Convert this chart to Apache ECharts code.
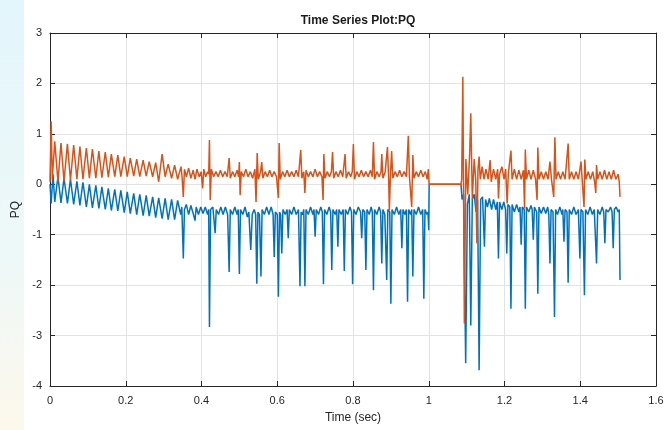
<!DOCTYPE html>
<html><head><meta charset="utf-8">
<script src="https://cdn.jsdelivr.net/npm/echarts@6/dist/echarts.min.js"></script>
<style>html,body{margin:0;padding:0;background:#fff}#c{width:668px;height:430px}</style>
</head><body><div id="c"></div>
<script>
const xTicks = [0, 0.2, 0.4, 0.6, 0.8, 1, 1.2, 1.4, 1.6];
const yTicks = [-4, -3, -2, -1, 0, 1, 2, 3];

// Orange series (P): [time, value]
const pOsc = [[0,0.05],[0.003,1.25],[0.006,0.1],[0.0125,0.85],[0.021,0.05],[0.029,0.82],[0.037,0.06],[0.046,0.8],[0.054,0.08],[0.0625,0.78],[0.071,0.1],[0.079,0.75],[0.087,0.1],[0.096,0.72],[0.104,0.12],[0.112,0.7],[0.121,0.12],[0.129,0.66],[0.137,0.13],[0.146,0.64],[0.154,0.14],[0.162,0.6],[0.171,0.15],[0.179,0.58],[0.187,0.15],[0.196,0.55],[0.204,0.15],[0.212,0.52],[0.221,0.16],[0.229,0.5],[0.237,0.15],[0.246,0.48],[0.254,0.16],[0.262,0.45],[0.271,0.15],[0.279,0.43],[0.287,0.05],[0.296,0.6],[0.304,0.15],[0.312,0.4],[0.321,0.12],[0.329,0.38],[0.337,0.1]];
const pMid = [[0.346,0.35],[0.349,0.12],[0.352,-0.25],[0.355,0.3],[0.36,0.15],[0.366,0.32],[0.372,0.12],[0.378,0.28],[0.383,0.1],[0.388,0.3],[0.394,0.15],[0.399,0.25],[0.403,-0.08],[0.406,0.3],[0.411,0.15],[0.416,0.25],[0.419,0.2],[0.421,0.88],[0.423,-0.31],[0.426,0.3],[0.432,0.15],[0.438,0.25],[0.444,0.15],[0.45,0.28],[0.456,0.15],[0.462,0.25],[0.468,0.15],[0.473,0.52],[0.476,0.12],[0.482,0.25],[0.488,0.15],[0.494,0.28],[0.498,0.15],[0.5,0.44],[0.502,-0.21],[0.505,0.25],[0.511,0.15],[0.517,0.3],[0.523,0.15],[0.529,0.25],[0.535,0.12],[0.541,0.3],[0.544,-0.35],[0.547,0.62],[0.55,0.1],[0.556,0.25],[0.559,0.44],[0.562,0.12],[0.568,0.25],[0.574,0.15],[0.58,0.28],[0.586,0.15],[0.592,0.25],[0.598,0.15],[0.603,-0.27],[0.605,0.82],[0.608,0.1],[0.614,0.25],[0.62,0.15],[0.626,0.28],[0.632,0.15],[0.638,0.25],[0.644,0.15],[0.65,0.28],[0.656,0.15],[0.662,0.68],[0.665,0.12],[0.67,0.25],[0.673,-0.17],[0.676,0.28],[0.682,0.15],[0.688,0.25],[0.694,0.15],[0.7,0.3],[0.706,0.15],[0.712,0.25],[0.718,0.15],[0.721,-0.31],[0.723,0.6],[0.726,0.12],[0.732,0.25],[0.738,0.15],[0.743,0.25],[0.746,0.64],[0.749,0.12],[0.755,0.25],[0.761,0.15],[0.767,0.28],[0.773,0.15],[0.779,0.6],[0.782,0.12],[0.788,0.25],[0.794,0.15],[0.798,0.25],[0.801,0.8],[0.804,0.1],[0.81,0.25],[0.816,0.15],[0.822,0.28],[0.828,0.15],[0.834,0.25],[0.84,0.15],[0.846,0.28],[0.851,0.15],[0.854,0.84],[0.857,0.1],[0.863,0.25],[0.869,0.15],[0.874,0.25],[0.876,0.6],[0.879,0.12],[0.885,0.25],[0.891,0.74],[0.894,0.15],[0.896,-0.51],[0.899,0.2],[0.902,0.66],[0.905,0.12],[0.911,0.25],[0.917,0.15],[0.923,0.28],[0.929,0.15],[0.935,0.25],[0.941,0.15],[0.946,0.96],[0.949,0.15],[0.955,-0.45],[0.958,0.58],[0.961,0.12],[0.967,0.25],[0.973,0.15],[0.979,0.28],[0.985,0.15],[0.991,0.25],[0.996,0.1],[0.999,0.3],[1.001,0.0],[1.085,0.0]];
const pPost = [[1.087,0.1],[1.09,2.13],[1.094,-2.76],[1.098,0.5],[1.103,-0.2],[1.108,0.6],[1.111,1.41],[1.115,-0.3],[1.12,0.5],[1.124,0.1],[1.127,-1.17],[1.13,0.3],[1.133,0.55],[1.136,0.1],[1.141,0.35],[1.146,0.1],[1.151,0.3],[1.157,0.1],[1.162,0.48],[1.165,0.05],[1.171,0.3],[1.177,0.1],[1.182,0.3],[1.184,-0.28],[1.187,0.2],[1.193,0.35],[1.199,0.1],[1.203,0.3],[1.207,-0.38],[1.21,0.2],[1.217,0.67],[1.22,0.1],[1.226,0.3],[1.232,0.1],[1.238,0.28],[1.244,0.1],[1.25,0.28],[1.253,-0.48],[1.255,0.69],[1.258,0.1],[1.264,0.28],[1.27,0.1],[1.276,0.28],[1.282,0.1],[1.286,-0.31],[1.288,0.73],[1.291,0.1],[1.297,0.25],[1.303,0.1],[1.309,0.25],[1.315,0.1],[1.32,0.45],[1.324,0.1],[1.33,-0.25],[1.333,0.93],[1.336,0.1],[1.342,0.25],[1.348,0.1],[1.354,0.25],[1.36,0.1],[1.368,0.81],[1.371,0.1],[1.377,0.25],[1.383,0.1],[1.389,0.25],[1.395,0.1],[1.402,0.45],[1.405,0.1],[1.41,-0.45],[1.412,0.49],[1.415,0.1],[1.421,0.25],[1.427,0.1],[1.433,0.25],[1.438,0.05],[1.441,-0.17],[1.443,0.38],[1.446,0.1],[1.452,0.25],[1.458,0.1],[1.464,0.28],[1.47,0.1],[1.476,0.25],[1.482,0.1],[1.488,0.28],[1.494,0.1],[1.5,0.2],[1.503,0.05],[1.505,-0.25]];

// Blue series (Q): [time, value]
const qOsc = [[0,0.0],[0.003,-0.38],[0.008,0.2],[0.0125,-0.35],[0.021,0.15],[0.029,-0.37],[0.037,0.12],[0.046,-0.38],[0.054,0.1],[0.0625,-0.4],[0.071,0.06],[0.079,-0.42],[0.087,0.04],[0.096,-0.45],[0.104,0.0],[0.112,-0.47],[0.121,-0.02],[0.129,-0.48],[0.137,-0.05],[0.146,-0.5],[0.154,-0.08],[0.162,-0.52],[0.171,-0.1],[0.179,-0.53],[0.187,-0.12],[0.196,-0.56],[0.204,-0.15],[0.212,-0.58],[0.221,-0.18],[0.229,-0.6],[0.237,-0.2],[0.246,-0.62],[0.254,-0.22],[0.262,-0.63],[0.271,-0.25],[0.279,-0.66],[0.287,-0.27],[0.296,-0.68],[0.304,-0.28],[0.312,-0.7],[0.321,-0.3],[0.329,-0.7],[0.337,-0.32],[0.345,-0.6]];
const qMid = [[0.348,-0.45],[0.352,-1.47],[0.355,-0.5],[0.36,-0.4],[0.366,-0.6],[0.372,-0.42],[0.378,-0.58],[0.383,-0.72],[0.386,-0.45],[0.392,-0.6],[0.398,-0.45],[0.404,-0.58],[0.41,-0.45],[0.416,-0.6],[0.419,-0.5],[0.421,-2.83],[0.424,-0.5],[0.43,-0.45],[0.436,-0.97],[0.439,-0.5],[0.445,-0.6],[0.451,-0.45],[0.457,-0.6],[0.463,-0.45],[0.469,-0.6],[0.473,-1.74],[0.476,-0.5],[0.482,-0.6],[0.488,-0.45],[0.494,-0.6],[0.497,-0.5],[0.5,-1.78],[0.503,-0.5],[0.509,-0.6],[0.515,-0.45],[0.521,-0.65],[0.525,-0.55],[0.53,-1.3],[0.534,-0.6],[0.539,-0.5],[0.543,-0.6],[0.546,-1.97],[0.549,-0.55],[0.553,-0.6],[0.557,-1.83],[0.56,-0.5],[0.566,-0.6],[0.572,-0.45],[0.578,-0.6],[0.584,-0.45],[0.589,-0.6],[0.592,-1.44],[0.595,-0.55],[0.6,-0.6],[0.603,-2.23],[0.606,-0.55],[0.609,-0.6],[0.612,-1.37],[0.615,-0.5],[0.621,-0.6],[0.626,-0.5],[0.629,-1.07],[0.632,-0.5],[0.638,-0.6],[0.644,-0.45],[0.65,-0.6],[0.656,-0.5],[0.66,-2.02],[0.663,-0.55],[0.667,-0.6],[0.67,-0.5],[0.673,-2.02],[0.676,-0.5],[0.682,-0.6],[0.688,-0.45],[0.694,-0.6],[0.697,-0.5],[0.7,-1.04],[0.703,-0.5],[0.709,-0.6],[0.715,-0.45],[0.719,-0.55],[0.722,-1.98],[0.725,-0.5],[0.731,-0.6],[0.737,-0.45],[0.741,-0.55],[0.744,-1.7],[0.747,-0.5],[0.753,-0.6],[0.757,-0.5],[0.76,-1.24],[0.763,-0.5],[0.769,-0.6],[0.774,-0.5],[0.777,-1.72],[0.78,-0.5],[0.786,-0.6],[0.792,-0.45],[0.796,-0.55],[0.799,-1.98],[0.802,-0.5],[0.808,-0.6],[0.814,-0.45],[0.82,-0.55],[0.823,-1.07],[0.826,-0.5],[0.831,-0.55],[0.834,-1.7],[0.837,-0.5],[0.843,-0.6],[0.848,-0.45],[0.851,-0.55],[0.854,-2.1],[0.857,-0.5],[0.863,-0.6],[0.869,-0.45],[0.873,-0.55],[0.876,-1.57],[0.879,-0.5],[0.884,-0.6],[0.889,-1.9],[0.892,-0.5],[0.897,-0.55],[0.9,-2.37],[0.903,-0.5],[0.909,-0.6],[0.915,-0.45],[0.921,-0.6],[0.926,-0.5],[0.929,-1.27],[0.932,-0.5],[0.937,-0.6],[0.941,-0.5],[0.944,-2.33],[0.947,-0.5],[0.952,-0.6],[0.955,-0.5],[0.958,-1.83],[0.961,-0.5],[0.967,-0.6],[0.973,-0.45],[0.979,-0.6],[0.984,-0.5],[0.987,-2.27],[0.99,-0.5],[0.995,-0.6],[0.998,-0.55],[1.0,-0.91],[1.001,0.0],[1.085,0.0]];
const qPost = [[1.088,-0.3],[1.092,-0.2],[1.0975,-3.55],[1.102,-0.4],[1.107,-0.2],[1.111,-2.8],[1.115,-0.3],[1.12,-0.2],[1.125,-0.55],[1.129,-0.3],[1.133,-3.69],[1.137,-0.3],[1.142,-0.25],[1.147,-1.24],[1.15,-0.3],[1.155,-0.45],[1.16,-0.28],[1.166,-0.5],[1.171,-0.3],[1.177,-0.5],[1.181,-0.35],[1.184,-1.47],[1.187,-0.35],[1.193,-0.5],[1.198,-0.35],[1.203,-0.5],[1.206,-1.37],[1.209,-0.4],[1.214,-0.45],[1.217,-2.47],[1.22,-0.4],[1.226,-0.55],[1.232,-0.4],[1.238,-0.55],[1.241,-0.45],[1.244,-1.2],[1.247,-0.45],[1.252,-0.5],[1.255,-2.47],[1.258,-0.45],[1.264,-0.55],[1.27,-0.42],[1.273,-0.5],[1.276,-1.1],[1.279,-0.45],[1.285,-0.55],[1.288,-2.17],[1.291,-0.45],[1.297,-0.58],[1.303,-0.45],[1.309,-0.58],[1.314,-0.45],[1.317,-0.6],[1.32,-1.57],[1.323,-0.5],[1.328,-0.55],[1.332,-2.63],[1.335,-0.5],[1.34,-0.6],[1.346,-0.45],[1.352,-0.6],[1.354,-0.5],[1.357,-1.14],[1.36,-0.5],[1.365,-0.55],[1.368,-1.95],[1.371,-0.5],[1.377,-0.6],[1.383,-0.45],[1.389,-0.6],[1.395,-0.5],[1.399,-1.47],[1.402,-0.5],[1.407,-0.55],[1.411,-2.2],[1.414,-0.5],[1.42,-0.6],[1.426,-0.45],[1.432,-0.6],[1.437,-0.5],[1.443,-1.57],[1.446,-0.5],[1.452,-0.6],[1.458,-0.45],[1.462,-0.55],[1.465,-1.17],[1.468,-0.5],[1.474,-0.55],[1.48,-0.45],[1.484,-0.55],[1.487,-1.27],[1.49,-0.5],[1.495,-0.45],[1.5,-0.55],[1.503,-0.5],[1.505,-1.9]];

const seriesP = pOsc.concat(pMid, pPost);
const seriesQ = qOsc.concat(qMid, qPost);

const chart = echarts.init(document.getElementById('c'), null, {renderer: 'canvas'});
const font = 'Liberation Sans, Arial, sans-serif';
const axisCommon = {
  axisLine: {show: true, onZero: false, lineStyle: {color: '#262626', width: 1}},
  axisTick: {show: true, inside: true, length: 5, lineStyle: {color: '#262626'}},
};
chart.setOption({
  backgroundColor: '#ffffff',
  animation: false,
  graphic: [{
    type: 'rect', left: 0, top: 0, z: -10,
    shape: {width: 24, height: 430},
    style: {fill: new echarts.graphic.LinearGradient(0, 0, 0, 1, [
      {offset: 0, color: '#e3f6fc'}, {offset: 0.6, color: '#eef8f8'}, {offset: 1, color: '#fdf8ec'}])}
  }],
  title: {
    text: 'Time Series Plot:PQ', left: 353, textAlign: 'center', top: 10,
    textStyle: {fontFamily: font, fontSize: 12, fontWeight: 'bold', color: '#1a1a1a'}
  },
  grid: {left: 50, right: 12, top: 33, bottom: 44, containLabel: false},
  xAxis: [{
    type: 'value', min: 0, max: 1.6, interval: 0.2, position: 'bottom',
    name: 'Time (sec)', nameLocation: 'middle', nameGap: 26,
    nameTextStyle: {fontFamily: font, fontSize: 12, color: '#262626'},
    axisLabel: {fontFamily: font, fontSize: 11, color: '#262626', margin: 9,
      formatter: v => xTicks.includes(+v.toFixed(1)) ? String(+v.toFixed(1)) : ''},
    splitLine: {show: true, lineStyle: {color: '#e3e3e3', width: 1}},
    ...axisCommon
  }, {
    type: 'value', min: 0, max: 1.6, interval: 0.2, position: 'top',
    axisLabel: {show: false}, splitLine: {show: false}, ...axisCommon
  }],
  yAxis: [{
    type: 'value', min: -4, max: 3, interval: 1, position: 'left',
    name: 'PQ', nameLocation: 'middle', nameGap: 28, nameRotate: 90,
    nameTextStyle: {fontFamily: font, fontSize: 12, color: '#262626'},
    axisLabel: {fontFamily: font, fontSize: 11, color: '#262626', margin: 8,
      formatter: v => yTicks.includes(v) ? String(v) : ''},
    splitLine: {show: true, lineStyle: {color: '#e3e3e3', width: 1}},
    ...axisCommon
  }, {
    type: 'value', min: -4, max: 3, interval: 1, position: 'right',
    axisLabel: {show: false}, splitLine: {show: false}, ...axisCommon
  }],
  series: [{
    name: 'Q', type: 'line', data: seriesQ, showSymbol: false, symbol: 'none',
    sampling: null, lineStyle: {color: '#0072BD', width: 1.5}, z: 2
  }, {
    name: 'P', type: 'line', data: seriesP, showSymbol: false, symbol: 'none',
    sampling: null, lineStyle: {color: '#D95319', width: 1.5}, z: 3
  }]
});
</script>
</body></html>
